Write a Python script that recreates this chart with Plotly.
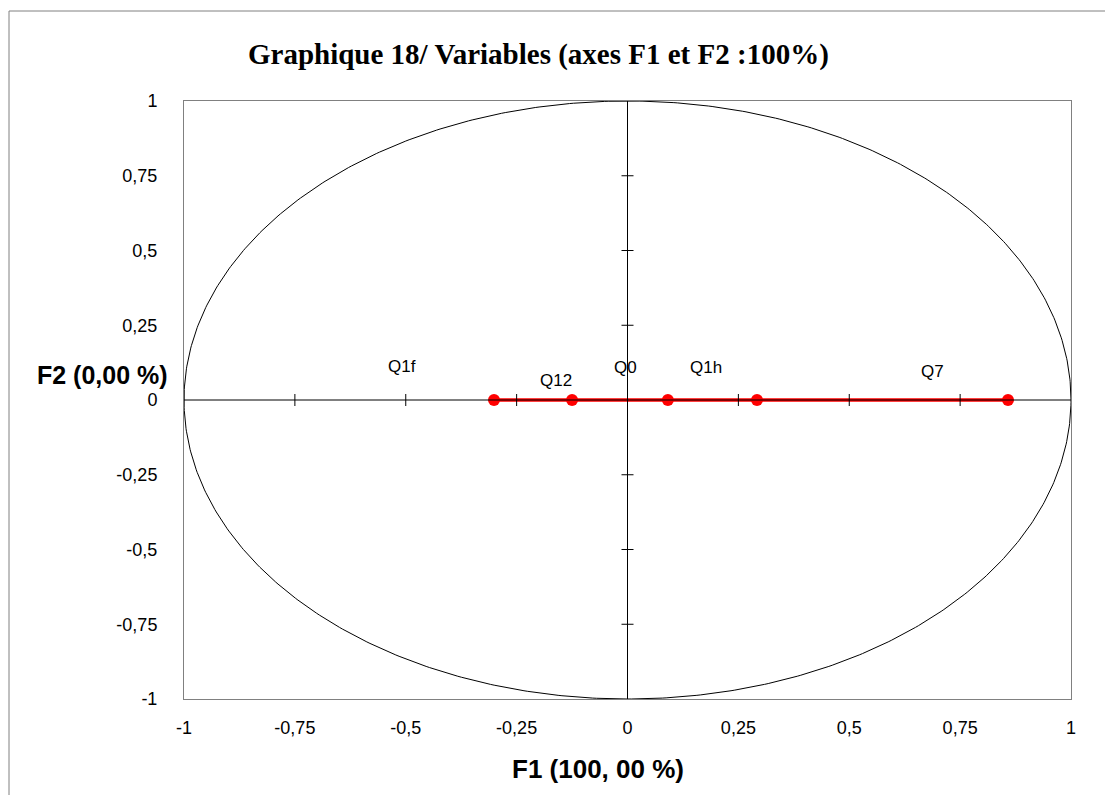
import numpy as np
import plotly.graph_objects as go

# ---- data ----
var_names = ["Q1f", "Q12", "Q0", "Q1h", "Q7"]
f1_values = [-0.301, -0.125, 0.091, 0.292, 0.858]
f2_values = [0.0, 0.0, 0.0, 0.0, 0.0]
label_x = [-0.509, -0.162, -0.005, 0.177, 0.688]
label_y = [0.111, 0.064, 0.110, 0.110, 0.094]
tick_vals = [-1, -0.75, -0.5, -0.25, 0, 0.25, 0.5, 0.75, 1]
tick_text = ["-1", "-0,75", "-0,5", "-0,25", "0", "0,25", "0,5", "0,75", "1"]

W, H = 1105, 795
L, R, T, B = 184, 1071, 101, 699

fig = go.Figure()

# unit circle
t = np.linspace(0, 2 * np.pi, 721)
fig.add_trace(go.Scatter(x=np.cos(t), y=np.sin(t), mode="lines",
                         line=dict(color="black", width=1), hoverinfo="skip",
                         showlegend=False))

# variables
fig.add_trace(go.Scatter(x=f1_values, y=f2_values, mode="lines+markers",
                         line=dict(color="#ff0000", width=3.5),
                         marker=dict(color="#ff0000", size=12),
                         text=var_names, showlegend=False))

shapes = []
# axes through origin
shapes.append(dict(type="line", xref="x", yref="y", x0=-1, x1=1, y0=0, y1=0,
                   line=dict(color="black", width=1), layer="above"))
shapes.append(dict(type="line", xref="x", yref="y", x0=0, x1=0, y0=-1, y1=1,
                   line=dict(color="black", width=1), layer="above"))
# cross tick marks on the zero axes
for v in tick_vals:
    if v in (-1, 0, 1):
        continue
    shapes.append(dict(type="line", xref="x", yref="y", xsizemode="scaled",
                       ysizemode="pixel", yanchor=0, x0=v, x1=v, y0=-6, y1=6,
                       line=dict(color="black", width=1), layer="above"))
    shapes.append(dict(type="line", xref="x", yref="y", xsizemode="pixel",
                       xanchor=0, x0=-6, x1=6, y0=v, y1=v,
                       line=dict(color="black", width=1), layer="above"))
# outer frame
shapes.append(dict(type="rect", xref="paper", yref="paper",
                   x0=9 / W, x1=1.02, y0=-0.02, y1=1 - 11 / H,
                   line=dict(color="#808080", width=1)))

annotations = []
for name, lx, ly in zip(var_names, label_x, label_y):
    annotations.append(dict(x=lx, y=ly, xref="x", yref="y", text=name,
                            showarrow=False, xanchor="center", yanchor="middle",
                            font=dict(family="Liberation Sans, Arial", size=17,
                                      color="black")))
annotations.append(dict(x=538 / W, y=1 - 55 / H, xref="paper", yref="paper",
                        text="<b>Graphique 18/ Variables (axes F1 et F2 :100%)</b>",
                        showarrow=False, xanchor="center", yanchor="middle",
                        font=dict(family="Liberation Serif, Times New Roman",
                                  size=29, color="black")))
annotations.append(dict(x=102 / W, y=1 - 375 / H, xref="paper", yref="paper",
                        text="<b>F2 (0,00 %)</b>", showarrow=False,
                        xanchor="center", yanchor="middle",
                        font=dict(family="Liberation Sans, Arial", size=25,
                                  color="black")))
annotations.append(dict(x=598 / W, y=1 - 769 / H, xref="paper", yref="paper",
                        text="<b>F1 (100, 00 %)</b>", showarrow=False,
                        xanchor="center", yanchor="middle",
                        font=dict(family="Liberation Sans, Arial", size=26,
                                  color="black")))

axis_common = dict(range=[-1, 1], tickvals=tick_vals, ticktext=tick_text,
                   showgrid=False, zeroline=False, showline=True,
                   linecolor="#808080", linewidth=1, mirror=True, ticks="",
                   automargin=False,
                   tickfont=dict(family="Liberation Sans, Arial", size=18,
                                 color="black"))

fig.update_layout(
    width=W, height=H,
    margin=dict(l=0, r=0, t=0, b=0),
    paper_bgcolor="white", plot_bgcolor="white",
    xaxis=dict(domain=[L / W, R / W], ticklabelstandoff=12, **axis_common),
    yaxis=dict(domain=[1 - B / H, 1 - T / H], ticklabelstandoff=22,
               **axis_common),
    shapes=shapes, annotations=annotations,
)

fig.write_html("out.html")
